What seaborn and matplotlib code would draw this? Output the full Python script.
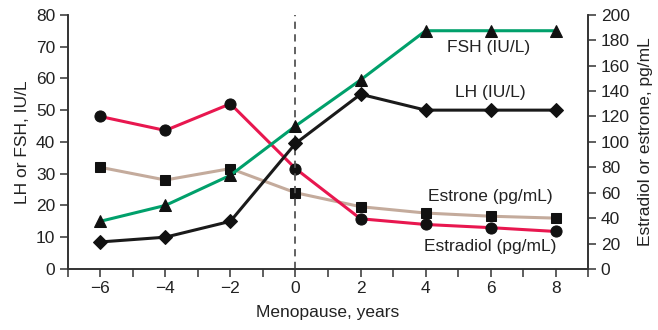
import matplotlib
matplotlib.use("Agg")
import matplotlib.pyplot as plt
import seaborn as sns
import pandas as pd
from matplotlib.ticker import MultipleLocator

years = [-6, -4, -2, 0, 2, 4, 6, 8]
fsh = [15, 20, 29.5, 45, 59.5, 75, 75, 75]
lh = [8.5, 10, 15, 39.5, 55, 50, 50, 50]
estradiol = [120, 109, 130, 79, 39.5, 35, 32.5, 29.5]
estrone = [80, 70, 79, 60, 49, 44, 41.5, 40]

sns.set_theme(style="white")
plt.rcParams['font.family'] = ['Liberation Sans', 'DejaVu Sans']

ink = "#333333"
fs = 12.5
fig = plt.figure(figsize=(6.58, 3.30), dpi=100)
ax = fig.add_axes([0.103, 0.185, 0.791, 0.77])
ax2 = ax.twinx()

df = pd.DataFrame({"years": years, "fsh": fsh, "lh": lh,
                   "estradiol": estradiol, "estrone": estrone})

ax.axvline(0, color="#555555", lw=1.3, ls=(0, (4, 3)), zorder=1)

sns.lineplot(data=df, x="years", y="estrone", ax=ax2, color="#c4ab9c", lw=2.2,
             marker="s", markersize=7, markerfacecolor="#111111",
             markeredgecolor="#111111", zorder=3)
sns.lineplot(data=df, x="years", y="estradiol", ax=ax2, color="#e8174f", lw=2.2,
             marker="o", markersize=8, markerfacecolor="#111111",
             markeredgecolor="#111111", zorder=3)
sns.lineplot(data=df, x="years", y="lh", ax=ax, color="#1a1a1a", lw=2.2,
             marker="D", markersize=7, markerfacecolor="#111111",
             markeredgecolor="#111111", zorder=4)
sns.lineplot(data=df, x="years", y="fsh", ax=ax, color="#00a06b", lw=2.2,
             marker="^", markersize=9, markerfacecolor="#111111",
             markeredgecolor="#111111", zorder=4)

ax.set_zorder(ax2.get_zorder() + 1)
ax.patch.set_visible(False)

ax.set_xlim(-7, 9)
ax.set_ylim(0, 80)
ax2.set_ylim(0, 200)
ax.set_xticks(years)
ax.set_xticklabels(["\u22126", "\u22124", "\u22122", "0", "2", "4", "6", "8"])
ax.xaxis.set_minor_locator(MultipleLocator(1))
ax.set_yticks(range(0, 81, 10))
ax2.set_yticks(range(0, 201, 20))

for a in (ax, ax2):
    a.spines["top"].set_visible(False)
    for s in a.spines.values():
        s.set_color(ink)
        s.set_linewidth(1.2)
    a.tick_params(which="both", direction="out", color=ink, labelcolor="#222222",
                  labelsize=fs, width=1.1)
    a.tick_params(which="major", length=6, pad=3)
    a.tick_params(which="minor", length=6)
    a.grid(False)
ax.tick_params(axis="x", which="both", bottom=True)
ax.tick_params(axis="y", left=True)
ax2.tick_params(axis="y", right=True)

ax.set_xlabel("Menopause, years", fontsize=fs, color="#222222", labelpad=6)
ax.set_ylabel("LH or FSH, IU/L", fontsize=fs, color="#222222", labelpad=4)
ax2.set_ylabel("Estradiol or estrone, pg/mL", fontsize=fs, color="#222222", labelpad=6)

ax.text(5.95, 69.6, "FSH (IU/L)", fontsize=fs, color="#222222", ha="center", va="center")
ax.text(6.0, 55.7, "LH (IU/L)", fontsize=fs, color="#222222", ha="center", va="center")
ax.text(6.0, 22.7, "Estrone (pg/mL)", fontsize=fs, color="#222222", ha="center", va="center")
ax.text(6.0, 7.2, "Estradiol (pg/mL)", fontsize=fs, color="#222222", ha="center", va="center")

fig.savefig("out.png", dpi=100)
